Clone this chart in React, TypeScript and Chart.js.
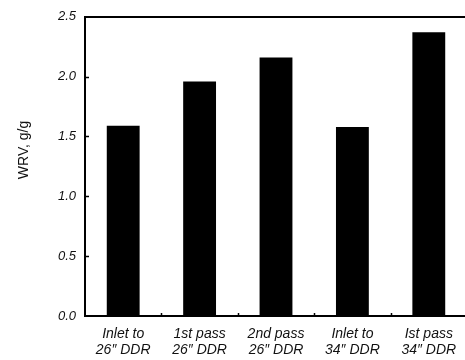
import React, { useEffect, useRef } from "react";
import { Chart, registerables } from "chart.js";

Chart.register(...registerables);

const categories: string[][] = [
  ["Inlet to", "26″ DDR"],
  ["1st pass", "26″ DDR"],
  ["2nd pass", "26″ DDR"],
  ["Inlet to", "34″ DDR"],
  ["Ist pass", "34″ DDR"],
];
const wrvValues: number[] = [1.59, 1.96, 2.16, 1.58, 2.37];
const yTickValues: number[] = [0, 0.5, 1.0, 1.5, 2.0, 2.5];
const yTitle = "WRV, g/g";

const FONT = "'Liberation Sans', Arial, Helvetica, sans-serif";

const tickMarks = {
  id: "tickMarks",
  afterDraw(chart: any) {
    const { ctx, chartArea, scales } = chart;
    const y = scales.y;
    const x = scales.x;
    ctx.save();
    ctx.strokeStyle = "#000";
    ctx.lineWidth = 1.5;
    ctx.beginPath();
    for (const v of yTickValues) {
      if (v === 0 || v === 2.5) continue;
      const py = Math.round(y.getPixelForValue(v)) + 0.5;
      ctx.moveTo(chartArea.left, py);
      ctx.lineTo(chartArea.left + 4, py);
    }
    for (let i = 1; i < categories.length; i++) {
      const px = Math.round((x.getPixelForValue(i - 1) + x.getPixelForValue(i)) / 2) + 0.5;
      ctx.moveTo(px, chartArea.bottom);
      ctx.lineTo(px, chartArea.bottom - 3);
    }
    ctx.stroke();
    // y axis title
    ctx.fillStyle = "#111";
    ctx.font = `14px ${FONT}`;
    ctx.textAlign = "center";
    ctx.textBaseline = "middle";
    ctx.translate(24, 150);
    ctx.rotate(-Math.PI / 2);
    ctx.fillText(yTitle, 0, 0);
    ctx.restore();
  },
};

export default function App() {
  const ref = useRef<HTMLCanvasElement | null>(null);
  useEffect(() => {
    if (!ref.current) return;
    const chart = new Chart(ref.current, {
      type: "bar",
      data: {
        labels: categories,
        datasets: [
          {
            data: wrvValues,
            backgroundColor: "#000",
            borderWidth: 0,
            categoryPercentage: 1,
            barPercentage: 0.43,
          },
        ],
      },
      options: {
        animation: false,
        responsive: false,
        devicePixelRatio: 1,
        layout: { padding: 0 },
        plugins: { legend: { display: false }, tooltip: { enabled: false } },
        scales: {
          x: {
            position: "bottom",
            grid: { display: false, drawTicks: false },
            border: { display: true, color: "#000", width: 2 },
            ticks: {
              color: "#111",
              padding: 10,
              maxRotation: 0,
              autoSkip: false,
              font: { family: FONT, size: 14, style: "italic", lineHeight: 1.15 },
            },
            afterFit(scale: any) {
              scale.height = 44;
            },
          },
          x2: {
            position: "top",
            grid: { display: false, drawTicks: false },
            border: { display: true, color: "#000", width: 2 },
            ticks: { display: false },
            afterFit(scale: any) {
              scale.height = 13;
            },
          },
          y: {
            min: 0,
            max: 2.5,
            grid: { display: false, drawTicks: false },
            border: { display: true, color: "#000", width: 2 },
            afterBuildTicks(scale: any) {
              scale.ticks = yTickValues.map((v) => ({ value: v }));
            },
            ticks: {
              color: "#111",
              padding: 9,
              font: { family: FONT, size: 13, style: "italic" },
              callback: (v: any) => Number(v).toFixed(1),
            },
            afterFit(scale: any) {
              scale.width = 85;
            },
          },
        },
      },
      plugins: [tickMarks],
    });
    return () => chart.destroy();
  }, []);
  return (
    <div
      style={{
        position: "fixed",
        left: 0,
        top: 0,
        width: 465,
        height: 360,
        overflow: "hidden",
        background: "#fff",
      }}
    >
      <canvas ref={ref} width={467} height={360} style={{ display: "block" }} />
    </div>
  );
}
